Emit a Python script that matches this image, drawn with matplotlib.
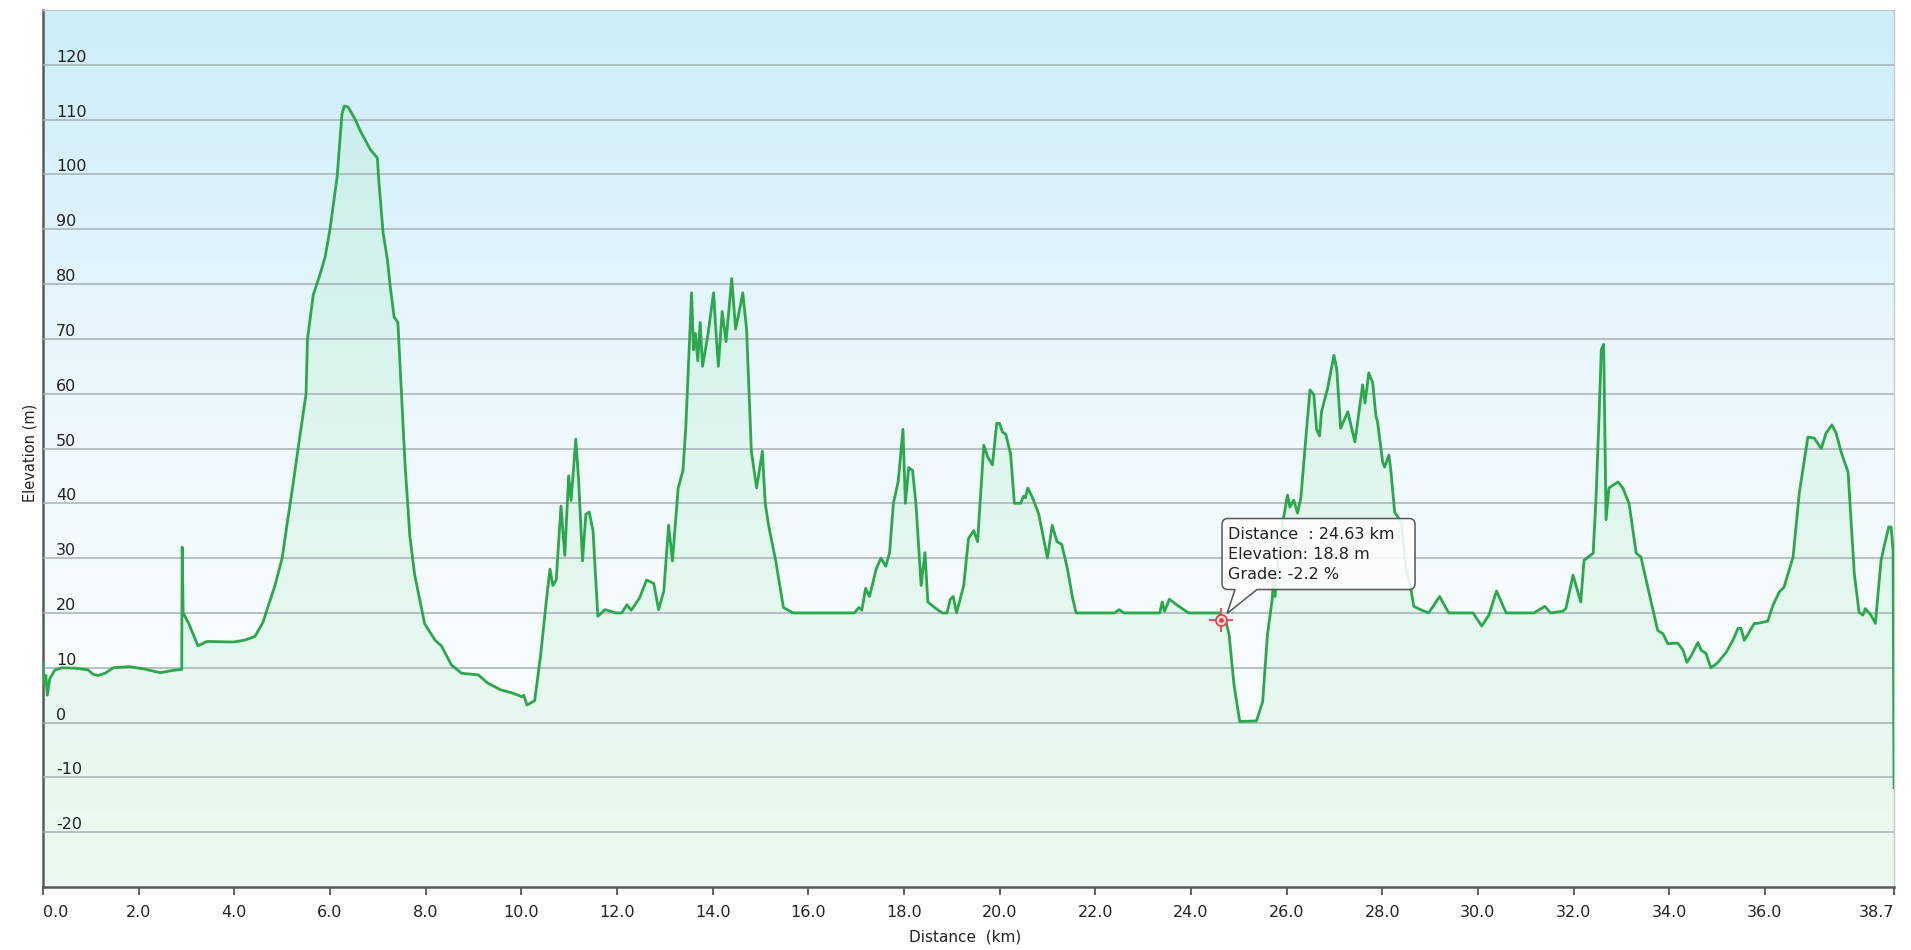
import numpy as np
import matplotlib
matplotlib.use("Agg")
import matplotlib.pyplot as plt
import matplotlib.colors as cols
import matplotlib.transforms as mtrans
from matplotlib.path import Path
from matplotlib.patches import PathPatch

# elevation profile (km, m)
dist_km = [0.00, 0.03, 0.06, 0.09, 0.14, 0.25, 0.40, 0.70, 0.94, 1.05, 1.15, 1.30,
           1.47, 1.80, 2.10, 2.45, 2.70, 2.90, 2.91, 2.93, 3.05, 3.24, 3.43, 3.98,
           4.20, 4.43, 4.60, 4.68, 4.85, 5.00, 5.10, 5.22, 5.35, 5.50, 5.53, 5.65,
           5.80, 5.90, 6.00, 6.15, 6.25, 6.30, 6.38, 6.53, 6.63, 6.84, 6.99, 7.02,
           7.11, 7.20, 7.26, 7.34, 7.42, 7.57, 7.67, 7.77, 7.98, 8.20, 8.33, 8.54,
           8.75, 9.10, 9.30, 9.56, 9.81, 10.02, 10.05, 10.12, 10.28,
           10.40, 10.53, 10.60, 10.66, 10.73, 10.83, 10.91, 10.99, 11.04, 11.14, 11.20,
           11.28, 11.35, 11.42, 11.50, 11.60, 11.75, 11.98, 12.10, 12.21, 12.30, 12.47,
           12.62, 12.77, 12.87, 12.98, 13.08, 13.16, 13.28, 13.38, 13.44, 13.56, 13.60,
           13.64, 13.69, 13.74, 13.79, 13.90, 14.02, 14.08, 14.12, 14.20, 14.28, 14.40,
           14.48, 14.58, 14.63, 14.71, 14.81, 14.92, 15.04, 15.10, 15.17, 15.32, 15.48,
           15.68, 16.96, 17.06, 17.12,
           17.20, 17.28, 17.42, 17.52, 17.62, 17.70, 17.78, 17.88, 17.98, 18.03, 18.10,
           18.18, 18.25, 18.36, 18.44, 18.50, 18.64, 18.80, 18.90, 18.97, 19.03, 19.10,
           19.25, 19.35, 19.46, 19.54, 19.67, 19.75, 19.85, 19.94, 20.00, 20.06, 20.13,
           20.23, 20.31, 20.44, 20.50, 20.54, 20.59, 20.69, 20.82, 20.92, 21.00, 21.10,
           21.20, 21.30, 21.42, 21.52, 21.60,
           22.40, 22.50, 22.60, 23.35, 23.40, 23.45, 23.55, 23.70, 23.95, 24.60, 24.63,
           24.73, 24.80, 24.90, 25.02, 25.37, 25.50, 25.60, 25.70, 25.73, 25.76, 25.85,
           25.95, 26.02, 26.07, 26.15, 26.23, 26.30, 26.40, 26.49, 26.57, 26.63, 26.69,
           26.73, 26.86, 26.99, 27.05, 27.13, 27.28, 27.43, 27.59, 27.64, 27.72, 27.80,
           27.87, 27.90, 28.01, 28.05, 28.14, 28.18, 28.26, 28.40, 28.50, 28.58, 28.66,
           28.80, 28.97, 29.20, 29.39, 29.90, 30.08, 30.23, 30.39, 30.59, 31.17, 31.40,
           31.52, 31.77, 31.84, 31.99, 32.15, 32.22, 32.41, 32.47, 32.53, 32.58, 32.63,
           32.68, 32.74, 32.93, 33.03, 33.16, 33.31, 33.41, 33.58, 33.76, 33.87, 33.97,
           34.18, 34.29, 34.37, 34.46, 34.60, 34.67, 34.77, 34.87, 35.00, 35.19, 35.33,
           35.44, 35.50, 35.57, 35.78, 35.85, 36.06, 36.17, 36.30, 36.40, 36.59, 36.72,
           36.90, 37.03, 37.10, 37.18, 37.28, 37.40, 37.49, 37.60, 37.74, 37.78, 37.87,
           37.97, 38.05, 38.10, 38.22, 38.31, 38.43, 38.49, 38.59, 38.64, 38.68, 38.70]

elev_m = [10.8, 7.0, 8.6, 5.0, 8.0, 9.6, 10.0, 9.9, 9.6, 8.8, 8.6, 9.0,
          10.0, 10.2, 9.8, 9.1, 9.5, 9.7, 32.0, 20.0, 18.0, 14.0, 14.8, 14.7,
          15.0, 15.7, 18.3, 20.5, 25.0, 30.0, 36.0, 43.0, 51.0, 60.0, 70.0, 78.0,
          82.0, 85.0, 90.0, 99.6, 111.0, 112.5, 112.3, 110.0, 108.0, 104.6, 103.0, 99.0,
          89.4, 84.5, 79.5, 74.0, 73.0, 47.0, 34.0, 27.0, 18.0, 15.0, 14.0, 10.5,
          9.0, 8.7, 7.2, 6.0, 5.4, 4.7, 5.0, 3.2, 4.0,
          12.0, 22.7, 28.0, 25.0, 26.0, 39.5, 30.5, 45.0, 40.5, 51.7, 44.0,
          29.5, 38.0, 38.4, 35.0, 19.4, 20.6, 20.0, 20.0, 21.5, 20.5, 22.7,
          26.0, 25.4, 20.6, 24.0, 36.0, 29.5, 42.8, 46.0, 54.0, 78.4, 68.0,
          71.0, 66.0, 73.0, 65.0, 70.7, 78.4, 70.0, 65.0, 75.0, 69.5, 81.0,
          71.8, 76.0, 78.4, 71.8, 49.5, 42.8, 49.5, 40.0, 36.0, 29.5, 21.0,
          20.0, 20.0, 21.0, 20.5,
          24.5, 23.0, 28.0, 30.0, 28.5, 31.0, 40.0, 44.0, 53.5, 40.0, 46.5,
          46.0, 40.0, 25.0, 31.0, 22.0, 21.0, 20.0, 20.0, 22.5, 23.0, 20.0,
          25.0, 33.6, 35.0, 33.0, 50.6, 48.5, 47.0, 54.6, 54.6, 53.0, 52.6,
          49.0, 40.0, 40.0, 41.3, 41.0, 42.8, 41.0, 38.0, 33.6, 30.0, 36.0,
          33.0, 32.5, 28.0, 23.0, 20.0,
          20.0, 20.6, 20.0, 20.0, 22.0, 20.3, 22.5, 21.5, 20.0, 20.0, 18.8,
          18.6, 15.9, 7.0, 0.2, 0.3, 3.8, 16.0, 22.5, 27.0, 23.0, 33.0,
          38.0, 41.5, 39.3, 40.6, 38.2, 41.1, 51.6, 60.7, 59.8, 53.4, 52.3,
          56.7, 61.0, 67.0, 64.4, 53.7, 56.7, 51.2, 61.6, 58.3, 63.8, 62.0,
          55.8, 55.0, 47.5, 46.6, 48.8, 46.0, 38.4, 36.5, 27.8, 25.4, 21.2,
          20.6, 20.0, 23.0, 20.0, 20.0, 17.6, 19.6, 24.0, 20.0, 20.0, 21.2,
          20.0, 20.3, 20.8, 26.9, 22.0, 29.6, 30.9, 41.0, 55.0, 68.0, 69.0,
          37.0, 42.8, 43.9, 42.8, 40.0, 30.9, 30.2, 23.6, 16.8, 16.2, 14.4,
          14.5, 13.2, 11.0, 12.2, 14.6, 13.2, 12.6, 10.0, 10.8, 12.8, 15.0,
          17.2, 17.2, 15.0, 18.1, 18.1, 18.5, 21.4, 23.8, 24.7, 30.2, 41.9,
          52.1, 51.9, 51.0, 50.0, 52.8, 54.3, 52.8, 49.2, 45.7, 40.0, 27.2,
          20.1, 19.6, 20.8, 19.6, 18.1, 29.6, 32.0, 35.7, 35.7, 31.4, -11.9]

x_ticks = [0, 2, 4, 6, 8, 10, 12, 14, 16, 18, 20, 22, 24, 26, 28, 30, 32, 34, 36, 38.7]
x_tick_labels = ["0.0", "2.0", "4.0", "6.0", "8.0", "10.0", "12.0", "14.0", "16.0",
                 "18.0", "20.0", "22.0", "24.0", "26.0", "28.0", "30.0", "32.0",
                 "34.0", "36.0", "38.7"]
y_ticks = [-20, -10, 0, 10, 20, 30, 40, 50, 60, 70, 80, 90, 100, 110, 120]

# hovered point shown in the tooltip
tip_km = 24.63
tip_elev = 18.8
tip_grade = -2.2

x_min, x_max = 0, 38.7
y_min, y_max = -30, 130

fig = plt.figure(figsize=(19.11, 9.5), dpi=100)
ax = fig.add_axes([43 / 1911, 63 / 950, 1851 / 1911, 877 / 950])

# sky gradient behind the profile
sky = cols.LinearSegmentedColormap.from_list("sky", ["#ffffff", "#f0f9fd", "#cdedf9"])
grad = np.linspace(0, 1, 256).reshape(-1, 1)
ax.imshow(grad, cmap=sky, origin="lower", aspect="auto",
          extent=[x_min, x_max, y_min, y_max], zorder=0)

ax.fill_between(dist_km, elev_m, y_min, color="#b0ecc4", alpha=0.25, lw=0, zorder=2)
ax.plot(dist_km, elev_m, color="#2ca84c", lw=2.0, zorder=3, solid_joinstyle="round")

ax.set_xlim(x_min, x_max)
ax.set_ylim(y_min, y_max)

ax.set_yticks(y_ticks)
ax.set_yticklabels([str(v) for v in y_ticks], ha="left", va="bottom")
ax.tick_params(axis="y", length=0, pad=-9.5, labelsize=11.5, labelcolor="#222222")
ax.yaxis.grid(True, color="#a6b0b6", lw=1.1, zorder=1)
ax.set_axisbelow(False)

ax.set_xticks(x_ticks)
ax.set_xticklabels(x_tick_labels)
ax.tick_params(axis="x", length=6, width=1.3, color="#555555", pad=7,
               labelsize=11.5, labelcolor="#222222")
ax.get_xticklabels()[0].set_ha("left")
ax.get_xticklabels()[-1].set_ha("right")

for side in ["left", "bottom"]:
    ax.spines[side].set_color("#5a5a5a")
    ax.spines[side].set_linewidth(1.8)
for side in ["top", "right"]:
    ax.spines[side].set_color("#c8c8c8")
    ax.spines[side].set_linewidth(1.0)

fig.text(965 / 1911, 1 - 937 / 950, "Distance  (km)", ha="center", va="center",
         fontsize=11, color="#222222")
fig.text(30 / 1911, 1 - 453 / 950, "Elevation (m)", ha="center", va="center",
         rotation=90, fontsize=10.5, color="#222222")

# marker
ax.plot([tip_km], [tip_elev], marker="+", ms=17, mew=1.3, color="#e8434a", zorder=5)
ax.plot([tip_km], [tip_elev], marker="o", ms=8, mew=1.3, mfc="#ffe0e0",
        mec="#e8434a", zorder=6)
ax.plot([tip_km], [tip_elev], marker="o", ms=2.5, color="#e8434a", zorder=7)

# tooltip bubble, drawn in pixels relative to the marker
mx, my = ax.transData.transform((tip_km, tip_elev))
tr = mtrans.Affine2D().translate(mx, my)
L, R, B, T, r = 1, 194, 30, 101, 6
verts = [(L + r, B), (14, B), (6, 6), (36, B), (R - r, B),
         (R, B), (R, B + r), (R, T - r), (R, T), (R - r, T),
         (L + r, T), (L, T), (L, T - r), (L, B + r), (L, B), (L + r, B), (L + r, B)]
codes = [Path.MOVETO, Path.LINETO, Path.LINETO, Path.LINETO, Path.LINETO,
         Path.CURVE3, Path.CURVE3, Path.LINETO, Path.CURVE3, Path.CURVE3,
         Path.LINETO, Path.CURVE3, Path.CURVE3, Path.LINETO, Path.CURVE3, Path.CURVE3,
         Path.CLOSEPOLY]
bubble = PathPatch(Path(verts, codes), transform=tr, facecolor=(1, 1, 1, 0.88),
                   edgecolor="#555555", lw=1.1, zorder=8, clip_on=False)
ax.add_patch(bubble)

tip_lines = ["Distance  : %.2f km" % tip_km,
             "Elevation: %.1f m" % tip_elev,
             "Grade: %.1f %%" % tip_grade]
for i, line in enumerate(tip_lines):
    ax.text(7, 81 - 20 * i, line, transform=tr, ha="left", va="baseline",
            fontsize=11.5, color="#222222", zorder=9, clip_on=False)

fig.savefig("out.png", dpi=100)
